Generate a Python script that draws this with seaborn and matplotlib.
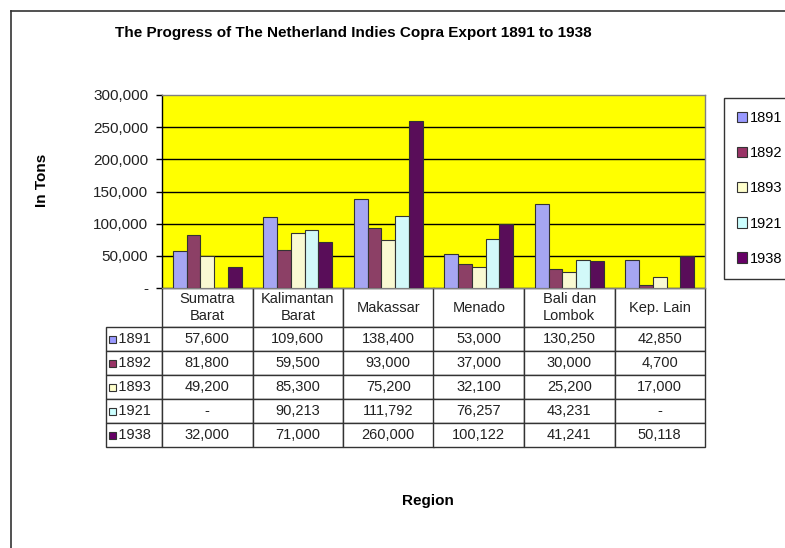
import seaborn as sns
import matplotlib.pyplot as plt
import pandas as pd
import numpy as np
from matplotlib.lines import Line2D
from matplotlib.patches import Rectangle

regions = ["Sumatra Barat", "Kalimantan Barat", "Makassar", "Menado", "Bali dan Lombok", "Kep. Lain"]
region_labels = ["Sumatra\nBarat", "Kalimantan\nBarat", "Makassar", "Menado", "Bali dan\nLombok", "Kep. Lain"]
years = ["1891", "1892", "1893", "1921", "1938"]
y1891 = [57600, 109600, 138400, 53000, 130250, 42850]
y1892 = [81800, 59500, 93000, 37000, 30000, 4700]
y1893 = [49200, 85300, 75200, 32100, 25200, 17000]
y1921 = [np.nan, 90213, 111792, 76257, 43231, np.nan]
y1938 = [32000, 71000, 260000, 100122, 41241, 50118]
yticks = [0, 50000, 100000, 150000, 200000, 250000, 300000]
colors = ["#9999FF", "#993366", "#FFFFCC", "#CCFFFF", "#660066"]

series = [y1891, y1892, y1893, y1921, y1938]
df = pd.DataFrame({
    "Region": regions * len(years),
    "Year": [y for y in years for _ in regions],
    "Tons": [v for s in series for v in s],
})

plt.rcParams["font.family"] = ["Liberation Sans", "DejaVu Sans"]

W, H = 785, 548
fig = plt.figure(figsize=(W / 100, H / 100), dpi=100)
fig.patch.set_facecolor("white")

x0, x1, ytop, ybot = 162, 705, 95, 288
ax = fig.add_axes([x0 / W, 1 - ybot / H, (x1 - x0) / W, (ybot - ytop) / H])
ax.set_facecolor("#FFFF00")

sns.barplot(data=df, x="Region", y="Tons", hue="Year", hue_order=years,
            order=regions, palette=colors, width=0.76, gap=0,
            errorbar=None, edgecolor="#333333", linewidth=0.8, ax=ax,
            legend=False, zorder=3)

ax.set_ylim(0, 300000)
ax.set_xlim(-0.5, len(regions) - 0.5)
ax.set_yticks(yticks)
ax.set_yticklabels(["-"] + [f"{v:,}" for v in yticks[1:]], fontsize=11, color="#222222")
ax.set_xticks([])
ax.set_xlabel("")
ax.set_ylabel("")
for v in yticks[1:-1]:
    ax.axhline(v, color="black", linewidth=1, zorder=1)
for side in ["top", "right", "bottom"]:
    ax.spines[side].set_color("#808080")
    ax.spines[side].set_linewidth(1)
ax.spines["left"].set_color("black")
ax.spines["left"].set_linewidth(1)
ax.tick_params(axis="y", length=4, width=1, color="black", pad=6)

# Data table below the plot (first column holds the year labels)
cell_text = []
for y, s in zip(years, series):
    cell_text.append(["   " + y] + ["-" if np.isnan(v) else f"{int(v):,}" for v in s])
tbl_left, tbl_right, tbl_bot = 106, 705, 447
tbl = ax.table(cellText=cell_text, colLabels=[""] + region_labels, cellLoc="center",
               bbox=[(tbl_left - x0) / (x1 - x0), -(tbl_bot - ybot) / (ybot - ytop),
                     (tbl_right - tbl_left) / (x1 - x0), (tbl_bot - ybot) / (ybot - ytop)])
tbl.auto_set_font_size(False)
tbl.set_fontsize(10.5)
col_w = (x1 - x0) / len(regions)
lab_w = x0 - tbl_left
for (r, c), cell in tbl.get_celld().items():
    cell.set_edgecolor("#333333")
    cell.set_linewidth(1)
    cell.set_width(lab_w if c == 0 else col_w)
    cell.set_height(39 if r == 0 else 24)
    cell.get_text().set_color("#222222")
    if c == 0:
        cell.get_text().set_ha("left")
        cell._loc = "left"
        cell.PAD = 0.0
    if r == 0 and c == 0:
        cell.visible_edges = ""
        cell.set_facecolor("none")

# legend keys inside the year label cells
row_tops = [327 + 24 * i for i in range(len(years))]
for i, c in enumerate(colors):
    yc = row_tops[i] + 12
    fig.add_artist(Rectangle(((tbl_left + 3) / W, 1 - (yc + 4) / H), 7 / W, 7 / H,
                             facecolor=c, edgecolor="#333333", linewidth=0.8))

# legend box on the right
handles = [Rectangle((0, 0), 1, 1, facecolor=c, edgecolor="#333333", linewidth=0.8) for c in colors]
leg = fig.legend(handles, years, loc="upper left", bbox_to_anchor=(724 / W, 1 - 98 / H),
                 frameon=True, fancybox=False, fontsize=10.5, handlelength=0.7,
                 handleheight=0.7, handletextpad=0.2, labelspacing=1.45,
                 borderpad=0.9, borderaxespad=0)
leg.get_frame().set_edgecolor("black")
leg.get_frame().set_linewidth(1)

# titles and labels
fig.text(353 / W, 1 - 33 / H, "The Progress of The Netherland Indies Copra Export 1891 to 1938",
         ha="center", va="center", fontsize=11, fontweight="bold")
fig.text(42 / W, 1 - 180 / H, "In Tons", ha="center", va="center", rotation=90,
         fontsize=11, fontweight="bold")
fig.text(428 / W, 1 - 501 / H, "Region", ha="center", va="center",
         fontsize=11, fontweight="bold")

# chart area border (extends past the picture edges)
fig.add_artist(Line2D([11 / W, 11 / W], [1 - 11 / H, 0], color="#333333", linewidth=1.2))
fig.add_artist(Line2D([11 / W, 1], [1 - 11 / H, 1 - 11 / H], color="#333333", linewidth=1.2))

fig.savefig("out.png", dpi=100)
